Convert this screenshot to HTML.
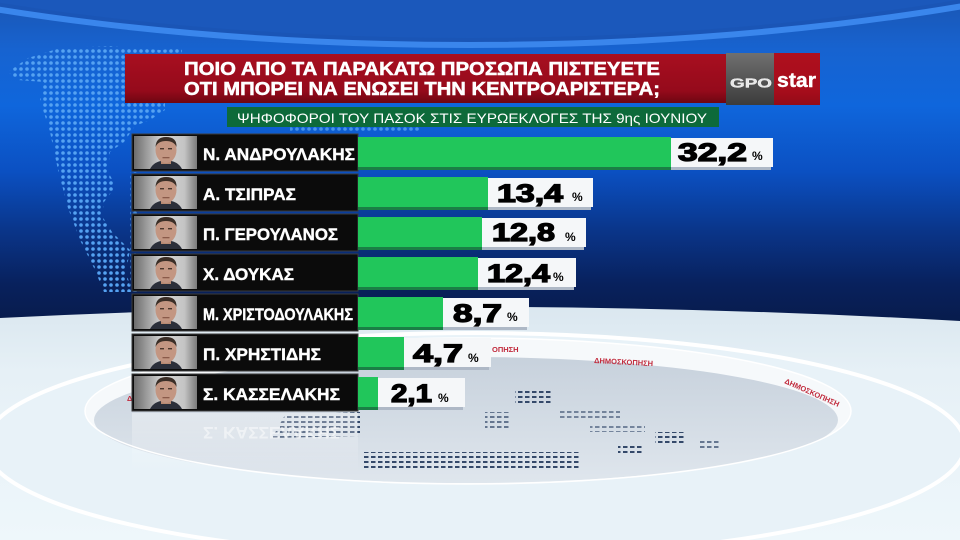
<!DOCTYPE html>
<html><head><meta charset="utf-8"><style>
html,body{margin:0;padding:0;width:960px;height:540px;overflow:hidden;background:#0a2a78}
svg{display:block}
</style></head><body>
<svg width="960" height="540" viewBox="0 0 960 540" xmlns="http://www.w3.org/2000/svg">
<defs>
<linearGradient id="bg" x1="0" y1="0" x2="0" y2="330" gradientUnits="userSpaceOnUse">
<stop offset="0" stop-color="#1a56b4"/><stop offset="0.15" stop-color="#1763d0"/><stop offset="0.32" stop-color="#0f66dc"/><stop offset="0.52" stop-color="#0b50c2"/><stop offset="0.7" stop-color="#0a3589"/><stop offset="0.86" stop-color="#08215d"/><stop offset="1" stop-color="#071a48"/>
</linearGradient>
<linearGradient id="floor" x1="0" y1="300" x2="0" y2="540" gradientUnits="userSpaceOnUse">
<stop offset="0" stop-color="#d9e6ef"/><stop offset="0.3" stop-color="#e6f0f6"/><stop offset="1" stop-color="#eef7fb"/>
</linearGradient>
<linearGradient id="disc" x1="0" y1="356" x2="0" y2="483" gradientUnits="userSpaceOnUse">
<stop offset="0" stop-color="#c7d1dc"/><stop offset="1" stop-color="#dfe6ed"/>
</linearGradient>
<linearGradient id="red" x1="0" y1="0" x2="0" y2="1">
<stop offset="0" stop-color="#a80f20"/><stop offset="0.75" stop-color="#950a1b"/><stop offset="1" stop-color="#6e0612"/>
</linearGradient>
<linearGradient id="grey" x1="0" y1="0" x2="0" y2="1">
<stop offset="0" stop-color="#707070"/><stop offset="1" stop-color="#3c3c3c"/>
</linearGradient>
<linearGradient id="photo" x1="0" y1="0" x2="1" y2="0">
<stop offset="0" stop-color="#6d6d6d"/><stop offset="0.45" stop-color="#d6d6d6"/><stop offset="0.8" stop-color="#c4c4c4"/><stop offset="1" stop-color="#7a7a7a"/>
</linearGradient>
<linearGradient id="refl" x1="0" y1="0" x2="0" y2="1">
<stop offset="0" stop-color="#ffffff" stop-opacity="0.35"/><stop offset="1" stop-color="#ffffff" stop-opacity="0"/>
</linearGradient>
<pattern id="dots" width="6" height="6" patternUnits="userSpaceOnUse">
<circle cx="3" cy="3" r="1.8" fill="#55a2f2"/>
</pattern>
<pattern id="dash" width="7" height="5" patternUnits="userSpaceOnUse">
<rect x="0" y="1" width="4.5" height="2" fill="#34496a"/>
</pattern>
<g id="face">
<rect x="0" y="0" width="63" height="33" fill="url(#photo)"/>
<path d="M16 33 Q20 25 32 24 Q44 25 48 33 Z" fill="#2b2f3a"/>
<rect x="27" y="22" width="10" height="6" fill="#b88a72"/>
<ellipse cx="32" cy="14" rx="10.5" ry="13" fill="#c39682"/>
<path d="M21.5 11 Q22 1 32 1 Q43 1 42.5 11 Q40 5 32 5 Q24 5 21.5 11 Z" fill="#3a2e27"/>
<rect x="26" y="12" width="4" height="1.4" fill="#4a362c"/>
<rect x="34" y="12" width="4" height="1.4" fill="#4a362c"/>
<rect x="28.5" y="21" width="7" height="1.3" fill="#8a5a4a"/>
</g>
</defs>

<!-- background sky -->
<rect x="0" y="0" width="960" height="540" fill="url(#bg)"/>
<ellipse cx="470" cy="-255" rx="1000" ry="300" fill="#1a55b6" stroke="#3a86ec" stroke-width="6"/>
<ellipse cx="470" cy="-262" rx="1000" ry="300" fill="#1b58bb"/>

<!-- dotted map -->
<path d="M8,72 L28,58 L60,48 L110,46 L160,50 L182,48 L182,60 L165,66 L165,110 L150,120 L135,126 L124,142 L110,152 L108,172 L116,186 L104,202 L102,216 L112,232 L130,250 L126,272 L132,292 L104,292 L94,268 L80,240 L68,208 L58,170 L50,132 L40,100 L44,82 L18,80 Z" fill="url(#dots)"/>
<rect x="290" y="127" width="130" height="6" fill="url(#dots)" opacity="0.8"/>
<rect x="130" y="172" width="8" height="120" fill="url(#dots)" opacity="0.7"/>

<!-- floor -->
<path d="M0,318 Q480,294 960,321 L960,540 L0,540 Z" fill="url(#floor)"/>
<ellipse cx="475" cy="445" rx="490" ry="112" fill="#e8f2f8" stroke="#ffffff" stroke-width="4"/>
<ellipse cx="468" cy="411" rx="383" ry="73" fill="#f6f9fb"/>
<ellipse cx="466" cy="420" rx="372" ry="63" fill="url(#disc)"/>
<ellipse cx="468" cy="411" rx="383" ry="73" fill="none" stroke="#ffffff" stroke-width="1.5"/>

<!-- rim texts -->
<text x="594" y="363" font-family="Liberation Sans, sans-serif" font-weight="bold" font-size="7.5" fill="#c12a3c" transform="rotate(3 594 363)">ΔΗΜΟΣΚΟΠΗΣΗ</text>
<text x="492" y="352" font-family="Liberation Sans, sans-serif" font-weight="bold" font-size="7.5" fill="#c12a3c">ΟΠΗΣΗ</text>
<text x="784" y="383" font-family="Liberation Sans, sans-serif" font-weight="bold" font-size="7.5" fill="#c12a3c" transform="rotate(24 784 383)">ΔΗΜΟΣΚΟΠΗΣΗ</text>
<text x="127" y="401" font-family="Liberation Sans, sans-serif" font-weight="bold" font-size="7.5" fill="#c12a3c">Δ</text>

<!-- disc dashes -->
<path d="M285,415 L360,412 L360,436 L272,438 Z" fill="url(#dash)"/>
<rect x="362" y="452" width="218" height="16" fill="url(#dash)"/>
<rect x="515" y="389" width="37" height="15" fill="url(#dash)"/>
<rect x="485" y="412" width="25" height="16" fill="url(#dash)" opacity="0.7"/>
<rect x="560" y="410" width="60" height="10" fill="url(#dash)" opacity="0.6"/>
<rect x="618" y="444" width="24" height="11" fill="url(#dash)"/>
<rect x="655" y="432" width="30" height="11" fill="url(#dash)"/>
<rect x="590" y="426" width="55" height="6" fill="url(#dash)" opacity="0.6"/>
<rect x="700" y="440" width="20" height="8" fill="url(#dash)" opacity="0.7"/>

<!-- reflection -->
<rect x="132" y="413" width="226" height="60" fill="url(#refl)"/>
<text x="203" y="427" font-family="Liberation Sans, sans-serif" font-weight="bold" font-size="17" fill="#ffffff" opacity="0.5" textLength="137" lengthAdjust="spacingAndGlyphs" transform="translate(0,854) scale(1,-1)">Σ. ΚΑΣΣΕΛΑΚΗΣ</text>

<!-- title banner -->
<rect x="125" y="54" width="601" height="49" fill="url(#red)"/>
<text x="184" y="75" font-family="Liberation Sans, sans-serif" font-weight="bold" font-size="18.5" fill="#ffffff" stroke="#ffffff" stroke-width="0.5" textLength="476" lengthAdjust="spacingAndGlyphs">ΠΟΙΟ ΑΠΟ ΤΑ ΠΑΡΑΚΑΤΩ ΠΡΟΣΩΠΑ ΠΙΣΤΕΥΕΤΕ</text>
<text x="184" y="95" font-family="Liberation Sans, sans-serif" font-weight="bold" font-size="18.5" fill="#ffffff" stroke="#ffffff" stroke-width="0.5" textLength="476" lengthAdjust="spacingAndGlyphs">ΟΤΙ ΜΠΟΡΕΙ ΝΑ ΕΝΩΣΕΙ ΤΗΝ ΚΕΝΤΡΟΑΡΙΣΤΕΡΑ;</text>

<!-- logo -->
<rect x="726" y="53" width="48" height="52" fill="url(#grey)"/>
<rect x="774" y="53" width="46" height="52" fill="url(#red)"/>
<rect x="774" y="53" width="46" height="52" fill="#b50f1c" opacity="0.5"/>
<text x="730" y="87.5" font-family="Liberation Sans, sans-serif" font-weight="bold" font-size="13" fill="#e6e6e6" stroke="#ffffff" stroke-width="0.3" textLength="42" lengthAdjust="spacingAndGlyphs">GPO</text>
<text x="777" y="87" font-family="Liberation Sans, sans-serif" font-weight="bold" font-size="20" fill="#ffffff" stroke="#ffffff" stroke-width="0.4" textLength="39" lengthAdjust="spacingAndGlyphs">star</text>

<!-- subtitle -->
<rect x="227" y="107" width="492" height="20" fill="#0d6a3a"/>
<text x="237" y="123" font-family="Liberation Sans, sans-serif" font-size="14" fill="#ffffff" textLength="470" lengthAdjust="spacingAndGlyphs">ΨΗΦΟΦΟΡΟΙ ΤΟΥ ΠΑΣΟΚ ΣΤΙΣ ΕΥΡΩΕΚΛΟΓΕΣ ΤΗΣ 9ης ΙΟΥΝΙΟΥ</text>

<!-- rows -->
<g font-family="Liberation Sans, sans-serif" font-weight="bold">
<g transform="translate(0,134)">
<rect x="132" y="0" width="226" height="37" fill="#0b0b0b" stroke="#3c3c3c" stroke-width="1"/>
<use href="#face" x="134" y="2"/>
<text x="203" y="26" font-size="17" fill="#fff" stroke="#fff" stroke-width="0.4" textLength="152" lengthAdjust="spacingAndGlyphs">Ν. ΑΝΔΡΟΥΛΑΚΗΣ</text>
<rect x="358" y="3" width="313" height="30" fill="#21c65b"/><rect x="358" y="33" width="313" height="3" fill="#1a7e45"/>
<rect x="671" y="4" width="102" height="29" fill="#f5f7f9"/><rect x="671" y="33" width="100" height="3" fill="#aeb8c6"/>
<text x="678" y="27" font-size="25" fill="#000" stroke="#000" stroke-width="1.3" textLength="69" lengthAdjust="spacingAndGlyphs">32,2</text>
<text x="752" y="26" font-size="12" fill="#000">%</text>
</g>
<g transform="translate(0,174)">
<rect x="132" y="0" width="226" height="37" fill="#0b0b0b" stroke="#3c3c3c" stroke-width="1"/>
<use href="#face" x="134" y="2"/>
<text x="203" y="26" font-size="17" fill="#fff" stroke="#fff" stroke-width="0.4" textLength="93" lengthAdjust="spacingAndGlyphs">Α. ΤΣΙΠΡΑΣ</text>
<rect x="358" y="3" width="130" height="30" fill="#21c65b"/><rect x="358" y="33" width="130" height="3" fill="#1a7e45"/>
<rect x="488" y="4" width="105" height="29" fill="#f5f7f9"/><rect x="488" y="33" width="103" height="3" fill="#aeb8c6"/>
<text x="497" y="28" font-size="25" fill="#000" stroke="#000" stroke-width="1.3" textLength="66" lengthAdjust="spacingAndGlyphs">13,4</text>
<text x="572" y="27" font-size="12" fill="#000">%</text>
</g>
<g transform="translate(0,214)">
<rect x="132" y="0" width="226" height="37" fill="#0b0b0b" stroke="#3c3c3c" stroke-width="1"/>
<use href="#face" x="134" y="2"/>
<text x="203" y="26" font-size="17" fill="#fff" stroke="#fff" stroke-width="0.4" textLength="135" lengthAdjust="spacingAndGlyphs">Π. ΓΕΡΟΥΛΑΝΟΣ</text>
<rect x="358" y="3" width="124" height="30" fill="#21c65b"/><rect x="358" y="33" width="124" height="3" fill="#1a7e45"/>
<rect x="482" y="4" width="104" height="29" fill="#f5f7f9"/><rect x="482" y="33" width="102" height="3" fill="#aeb8c6"/>
<text x="492" y="27" font-size="25" fill="#000" stroke="#000" stroke-width="1.3" textLength="63" lengthAdjust="spacingAndGlyphs">12,8</text>
<text x="565" y="27" font-size="12" fill="#000">%</text>
</g>
<g transform="translate(0,254)">
<rect x="132" y="0" width="226" height="37" fill="#0b0b0b" stroke="#3c3c3c" stroke-width="1"/>
<use href="#face" x="134" y="2"/>
<text x="203" y="26" font-size="17" fill="#fff" stroke="#fff" stroke-width="0.4" textLength="91" lengthAdjust="spacingAndGlyphs">Χ. ΔΟΥΚΑΣ</text>
<rect x="358" y="3" width="120" height="30" fill="#21c65b"/><rect x="358" y="33" width="120" height="3" fill="#1a7e45"/>
<rect x="478" y="4" width="98" height="29" fill="#f5f7f9"/><rect x="478" y="33" width="96" height="3" fill="#aeb8c6"/>
<text x="487" y="28" font-size="25" fill="#000" stroke="#000" stroke-width="1.3" textLength="63" lengthAdjust="spacingAndGlyphs">12,4</text>
<text x="553" y="27" font-size="12" fill="#000">%</text>
</g>
<g transform="translate(0,294)">
<rect x="132" y="0" width="226" height="37" fill="#0b0b0b" stroke="#3c3c3c" stroke-width="1"/>
<use href="#face" x="134" y="2"/>
<text x="203" y="26" font-size="17" fill="#fff" stroke="#fff" stroke-width="0.4" textLength="150" lengthAdjust="spacingAndGlyphs">Μ. ΧΡΙΣΤΟΔΟΥΛΑΚΗΣ</text>
<rect x="358" y="3" width="85" height="30" fill="#21c65b"/><rect x="358" y="33" width="85" height="3" fill="#1a7e45"/>
<rect x="443" y="4" width="86" height="29" fill="#f5f7f9"/><rect x="443" y="33" width="84" height="3" fill="#aeb8c6"/>
<text x="453" y="28" font-size="25" fill="#000" stroke="#000" stroke-width="1.3" textLength="49" lengthAdjust="spacingAndGlyphs">8,7</text>
<text x="507" y="27" font-size="12" fill="#000">%</text>
</g>
<g transform="translate(0,334)">
<rect x="132" y="0" width="226" height="37" fill="#0b0b0b" stroke="#3c3c3c" stroke-width="1"/>
<use href="#face" x="134" y="2"/>
<text x="203" y="26" font-size="17" fill="#fff" stroke="#fff" stroke-width="0.4" textLength="118" lengthAdjust="spacingAndGlyphs">Π. ΧΡΗΣΤΙΔΗΣ</text>
<rect x="358" y="3" width="46" height="30" fill="#21c65b"/><rect x="358" y="33" width="46" height="3" fill="#1a7e45"/>
<rect x="404" y="4" width="87" height="29" fill="#f5f7f9"/><rect x="404" y="33" width="85" height="3" fill="#aeb8c6"/>
<text x="413" y="28" font-size="25" fill="#000" stroke="#000" stroke-width="1.3" textLength="50" lengthAdjust="spacingAndGlyphs">4,7</text>
<text x="468" y="28" font-size="12" fill="#000">%</text>
</g>
<g transform="translate(0,374)">
<rect x="132" y="0" width="226" height="37" fill="#0b0b0b" stroke="#3c3c3c" stroke-width="1"/>
<use href="#face" x="134" y="2"/>
<text x="203" y="26" font-size="17" fill="#fff" stroke="#fff" stroke-width="0.4" textLength="137" lengthAdjust="spacingAndGlyphs">Σ. ΚΑΣΣΕΛΑΚΗΣ</text>
<rect x="358" y="3" width="20" height="30" fill="#21c65b"/><rect x="358" y="33" width="20" height="3" fill="#1a7e45"/>
<rect x="378" y="4" width="87" height="29" fill="#f5f7f9"/><rect x="378" y="33" width="85" height="3" fill="#aeb8c6"/>
<text x="391" y="28" font-size="25" fill="#000" stroke="#000" stroke-width="1.3" textLength="41" lengthAdjust="spacingAndGlyphs">2,1</text>
<text x="438" y="28" font-size="12" fill="#000">%</text>
</g>
</g>
</svg>
</body></html>
